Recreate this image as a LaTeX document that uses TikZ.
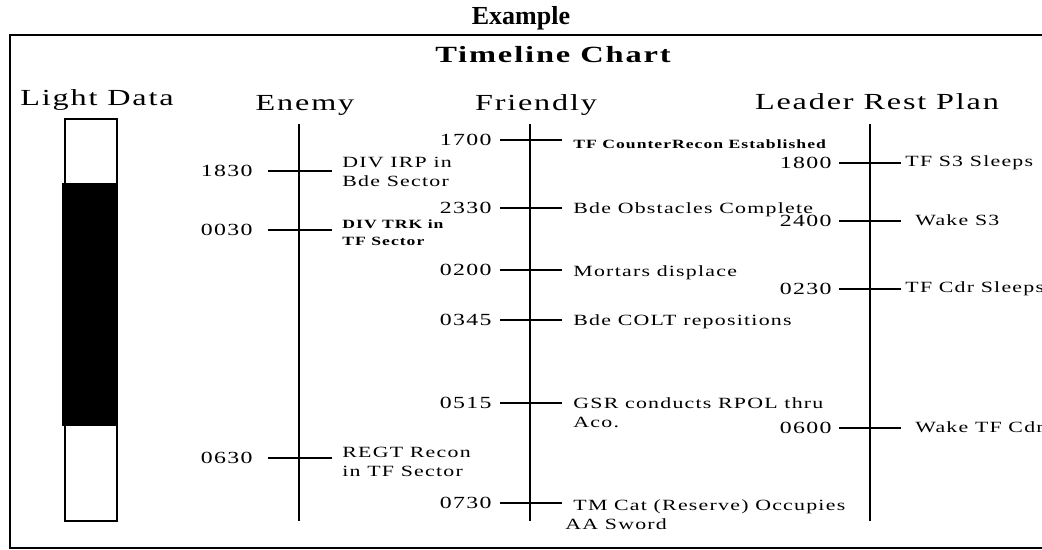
\documentclass[tikz,border=0pt]{standalone}
\usepackage{fontspec}
\setmainfont{Liberation Serif}
\newfontfamily\chartfont[FakeStretch=1.4,LetterSpace=8]{Liberation Serif}
\usetikzlibrary{calc}
\newcommand{\headfont}{\chartfont\fontsize{11.5pt}{13pt}\selectfont}
\newcommand{\timefont}{\chartfont\fontsize{8.5pt}{10pt}\selectfont}
\newcommand{\evfont}{\chartfont\fontsize{7.8pt}{9.6pt}\selectfont}
\newcommand{\evsmallfont}{\chartfont\bfseries\fontsize{6.3pt}{8.5pt}\selectfont}

\begin{document}
\begin{tikzpicture}[
      x=0.5pt,y=-0.5pt,
      head/.style={font=\headfont,inner sep=0pt,anchor=base},
      tm/.style={font=\timefont,anchor=east,inner ysep=0pt,inner xsep=4pt},
      ev/.style={font=\evfont,anchor=west,align=left,inner ysep=0pt,inner xsep=5pt},
      evsmall/.style={ev,font=\evsmallfont},
      axisline/.style={line width=0.9pt},
      tickline/.style={line width=0.7pt}
    ]
    \useasboundingbox (0,0) rectangle (1042,550);
    \node[font=\bfseries\fontsize{13pt}{15pt}\selectfont,anchor=base] (example) at (521,25) {Example};
    \draw[line width=1.4pt] (10,35) rectangle (1070,548);
    \node[font=\chartfont\bfseries\fontsize{11.6pt}{13pt}\selectfont,anchor=base] (chart) at (553,63) {Timeline Chart};
    % column headings
    \node[head] (light) at (97,106) {Light Data};
    \node[head] (enemy) at (305,111) {Enemy};
    \node[head] (friendly) at (536,111) {Friendly};
    \node[head] (leader) at (877,110) {Leader Rest Plan};
    % light bar
    \draw[line width=0.7pt] (65,119) rectangle (117,521);
    \fill (62,183) rectangle (117,426);
    % time axes
    \foreach \x in {299,530,870}
      \draw[axisline] (\x,124) -- (\x,521);
    % enemy
    \node[tm,inner xsep=7.5pt] (t1830) at (268,171) {1830};
    \node[ev] (e1830) at (332,172) {DIV IRP in\\ Bde Sector};
    \node[tm,inner xsep=7.5pt] (t0030) at (268,230) {0030};
    \node[evsmall] (e0030) at (332,233) {DIV TRK in\\TF Sector};
    \node[tm,inner xsep=7.5pt] (t0630) at (268,458) {0630};
    \node[ev] (e0630) at (332,462) {REGT Recon\\in TF Sector};
    % friendly
    \node[tm] (t1700) at (500,140) {1700};
    \node[evsmall,inner xsep=5.5pt] (e1700) at (562,144) {TF CounterRecon Established};
    \node[tm] (t2330) at (500,208) {2330};
    \node[ev,inner xsep=5.5pt] (e2330) at (562,210) {Bde Obstacles Complete};
    \node[tm] (t0200) at (500,270) {0200};
    \node[ev,inner xsep=5.5pt] (e0200) at (562,273) {Mortars displace};
    \node[tm] (t0345) at (500,320) {0345};
    \node[ev,inner xsep=5.5pt] (e0345) at (562,322) {Bde COLT repositions};
    \node[tm] (t0515) at (500,403) {0515};
    \node[ev,inner xsep=5.5pt] (e0515) at (562,413) {GSR conducts RPOL thru\\Aco.};
    \node[tm] (t0730) at (500,503) {0730};
    \node[ev,inner xsep=5.5pt] (e0730) at (562,515) {TM Cat (Reserve) Occupies\\\hspace*{-4pt}AA Sword};
    % leader rest plan
    \node[tm,inner xsep=3.5pt] (t1800) at (839,163) {1800};
    \node[ev,inner xsep=2pt] (e1800) at (901,163) {TF S3 Sleeps};
    \node[tm,inner xsep=3.5pt] (t2400) at (839,221) {2400};
    \node[ev,inner xsep=7pt] (e2400) at (901,220) {Wake S3};
    \node[tm,inner xsep=3.5pt] (t0230) at (839,289) {0230};
    \node[ev,inner xsep=2pt] (e0230) at (901,289) {TF Cdr Sleeps};
    \node[tm,inner xsep=3.5pt] (t0600) at (839,428) {0600};
    \node[ev,inner xsep=7pt] (e0600) at (901,427) {Wake TF Cdr};
    % ticks
    \foreach \n in {1830,0030,0630,1700,2330,0200,0345,0515,0730,1800,2400,0230,0600}
      \draw[tickline] (t\n.east) -- (t\n.east -| e\n.west);
  \end{tikzpicture}
\end{document}
